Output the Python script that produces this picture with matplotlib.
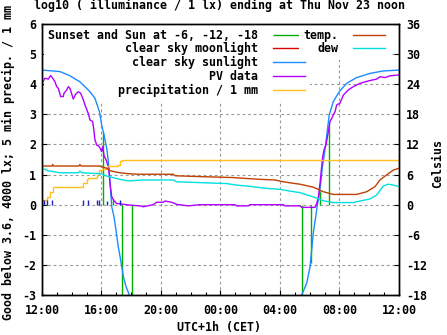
import matplotlib
matplotlib.use('Agg')
import matplotlib.pyplot as plt
from matplotlib.ticker import FuncFormatter, MultipleLocator

plt.rcParams['font.family'] = ['DejaVu Sans Mono']
plt.rcParams['font.weight'] = 'bold'
plt.rcParams['font.size'] = 8.4
plt.rcParams['axes.unicode_minus'] = False

# hours since midnight of Nov 22 (12 = noon, 36 = next noon)
# sunset, sun at -6, -12, -18 (evening) and -18, -12, -6, sunrise (morning)
sun_ev_t = [16.12, 16.75, 17.36, 18.03, 29.46, 30.06, 30.69, 31.31]
sun_ev_v = [2.42, 0.20, -3.5, -3.5, -3.5, -1.95, 0.45, 2.65]

# clear sky moonlight: nothing above -3 in this window
moon_t = []
moon_v = []

sunlight_t = [12.0, 13.21, 13.88, 14.55, 15.23, 15.56, 15.86, 16.01, 16.17, 16.35, 16.46,
              16.57, 16.69, 16.84, 16.97, 17.13, 17.29, 17.47, 17.65, 17.87, 18.0,
              float('nan'),
              29.34, 29.46, 29.80, 30.02, 30.13, 30.24, 30.40, 30.51, 30.62, 30.74,
              30.85, 30.96, 31.09, 31.31, 31.58, 31.98, 32.48, 33.15, 34.05, 34.94, 36.0]
sunlight_v = [4.47, 4.42, 4.28, 4.08, 3.75, 3.53, 3.09, 2.65, 2.31, 1.88, 1.43,
              0.76, -0.07, -0.40, -0.84, -1.40, -1.84, -2.39, -2.72, -3.0, -3.4,
              float('nan'),
              -3.4, -3.0, -2.6, -2.06, -1.5, -0.94, -0.40, -0.01, 0.26, 0.72,
              1.26, 1.60, 2.09, 2.98, 3.42, 3.75, 4.03, 4.22, 4.36, 4.44, 4.47]

pv_t = [12.05, 12.20, 12.42, 12.58, 12.72, 12.87, 12.99, 13.10, 13.26, 13.43,
        13.48, 13.66, 13.77, 13.88, 14.00, 14.10, 14.27, 14.44, 14.60, 14.78,
        14.89, 15.11, 15.23, 15.41, 15.50, 15.56, 15.68, 15.85, 16.01, 16.08,
        16.17, 16.30, 16.42, 16.50, 16.57, 16.69, 16.84, 17.02, 17.36, 17.80,
        18.59, 18.81, 19.48, 19.71, 20.15, 20.27, 20.72, 21.06, 21.84, 22.62,
        24.97, 25.09, 25.87, 25.98, 28.22, 28.34, 29.34, 29.46, 30.35, 30.47,
        30.58, 30.69, 30.80, 30.87, 30.96, 31.09, 31.25, 31.36, 31.48, 31.70,
        31.81, 32.03, 32.26, 32.59, 32.93, 33.38, 33.94, 34.50, 34.72, 35.06,
        35.40, 36.0]
pv_v = [4.08, 4.20, 4.17, 4.29, 4.20, 4.08, 3.92, 3.86, 3.59, 3.59,
        3.70, 3.81, 3.92, 3.86, 3.67, 3.51, 3.67, 3.75, 3.70, 3.48,
        3.31, 3.03, 2.81, 2.76, 2.42, 2.15, 1.98, 1.93, 1.76, 1.93,
        1.62, 1.50, 1.32, 1.15, 0.71, 0.26, 0.13, 0.04, 0.02, -0.01,
        -0.04, -0.07, 0.0, 0.08, 0.08, 0.12, 0.08, 0.01, -0.04, 0.0,
        0.0, -0.04, -0.04, 0.0, 0.0, -0.04, -0.04, -0.09, -0.09, 0.04,
        0.26, 0.71, 1.26, 1.59, 1.82, 1.98, 2.42, 2.76, 2.87, 3.09,
        3.31, 3.37, 3.64, 3.81, 3.92, 4.03, 4.11, 4.17, 4.25, 4.22,
        4.28, 4.31]

precip_t = [12.0, 12.09, 12.32, 12.54, 12.72, 14.67, 14.78, 15.0, 15.11, 15.56,
            15.68, 15.85, 16.01, 16.35, 17.13, 17.24, 17.36, 36.0]
precip_v = [0.07, 0.16, 0.26, 0.43, 0.58, 0.58, 0.71, 0.84, 0.88, 0.88,
            0.99, 1.15, 1.18, 1.30, 1.32, 1.46, 1.48, 1.48]

# 5 minute precipitation
rain5_t = [12.13, 12.36, 12.65, 14.78, 15.11, 15.72, 15.85, 16.40, 17.24]
rain5_v = [0.16, 0.16, 0.16, 0.16, 0.16, 0.16, 0.16, 0.13, 0.16]

temp_t = [12.0, 12.67, 12.72, 12.77, 14.49, 14.55, 14.62, 15.9, 16.01, 16.35,
          16.57, 16.91, 17.24, 17.58, 18.03, 18.59, 20.83, 20.94, 22.74, 24.86,
          26.32, 27.66, 28.22, 28.89, 29.34, 30.24, 30.91, 31.58, 33.15, 33.83,
          34.39, 34.72, 35.17, 35.62, 36.0]
temp_c = [7.70, 7.70, 8.0, 7.70, 7.70, 8.0, 7.70, 7.70, 7.56, 7.26,
          6.78, 6.54, 6.36, 6.24, 6.12, 6.06, 6.06, 5.76, 5.58, 5.40,
          5.10, 4.92, 4.56, 4.26, 4.08, 3.48, 2.58, 2.04, 2.04, 2.58,
          3.60, 4.92, 5.94, 6.90, 7.26]

dew_t = [12.0, 12.2, 12.36, 13.21, 14.44, 14.55, 14.67, 15.45, 16.01, 16.35,
         16.69, 17.24, 17.69, 17.92, 18.70, 20.83, 21.06, 22.74, 24.42, 25.09,
         25.76, 26.43, 27.11, 28.0, 28.67, 29.34, 30.24, 30.91, 31.58, 32.93,
         33.38, 34.05, 34.50, 34.94, 35.28, 35.62, 36.0]
dew_c = [7.08, 7.08, 6.78, 6.36, 6.36, 6.66, 6.36, 6.24, 6.12, 5.70,
         5.46, 5.04, 4.80, 4.74, 4.92, 4.92, 4.56, 4.38, 4.20, 3.90,
         3.72, 3.48, 3.24, 3.06, 2.70, 2.40, 1.56, 0.78, 0.42, 0.42,
         0.72, 1.14, 1.92, 3.72, 4.08, 3.90, 3.60]

c_sun = '#00b000'
c_moon = '#e00000'
c_light = '#1a8cff'
c_pv = '#b000ff'
c_prec = '#ffc020'
c_temp = '#c04000'
c_dew = '#00e0e0'
c_rain5 = '#2020c0'

fig = plt.figure(figsize=(4.47, 3.35), dpi=100)
ax = fig.add_axes([42/447, 40/335, 357/447, 271/335])
ax2 = ax.twinx()

lw = 1.0
h1 = ax.vlines(sun_ev_t, 0, sun_ev_v, color=c_sun, lw=lw, zorder=2,
               label='Sunset and Sun at -6, -12, -18')
h2, = ax.plot(moon_t, moon_v, color=c_moon, lw=lw, zorder=2, label='clear sky moonlight')
h3, = ax.plot(sunlight_t, sunlight_v, color=c_light, lw=lw, zorder=2, label='clear sky sunlight')
h4, = ax.plot(pv_t, pv_v, color=c_pv, lw=lw, zorder=2, label='PV data')
h5, = ax.plot(precip_t, precip_v, color=c_prec, lw=lw, zorder=2, drawstyle='steps-post',
              label='precipitation / 1 mm')
ax.vlines(rain5_t, 0, rain5_v, color=c_rain5, lw=lw, zorder=2)
h6, = ax2.plot(temp_t, temp_c, color=c_temp, lw=lw, label='temp.')
h7, = ax2.plot(dew_t, dew_c, color=c_dew, lw=lw, label='dew')

ax.set_xlim(12, 36)
ax.set_ylim(-3, 6)
ax2.set_ylim(-18, 36)

ax.xaxis.set_major_locator(MultipleLocator(4))
ax.xaxis.set_minor_locator(MultipleLocator(1))
ax.xaxis.set_major_formatter(FuncFormatter(lambda v, p: '%02d:00' % (int(round(v)) % 24)))
ax.yaxis.set_major_locator(MultipleLocator(1))
ax2.yaxis.set_major_locator(MultipleLocator(6))

ax.tick_params(axis='x', which='both', direction='in', top=True, pad=6.5)
ax.tick_params(axis='x', which='major', length=3.5, width=0.8)
ax.tick_params(axis='x', which='minor', length=2.5, width=0.8)
ax.tick_params(axis='y', direction='in', right=False, length=3.5, width=0.8, pad=4.3)
ax2.tick_params(axis='y', direction='in', length=3.5, width=0.8, pad=5)

for a in (ax, ax2):
    for s in a.spines.values():
        s.set_linewidth(1.0)

ax.set_axisbelow(True)
ax.grid(True, color='#999999', linestyle=(0, (2.5, 2.5)), linewidth=0.8)

leg_kw = dict(loc='upper right', borderaxespad=0, markerfirst=False, frameon=True,
              fancybox=False, facecolor='white', edgecolor='none', framealpha=1,
              borderpad=0.4, labelspacing=0.06, handlelength=2.74, handletextpad=1.29)
leg1 = ax.legend(handles=[h1, h2, h3, h4, h5],
                 bbox_to_anchor=((310 - 42) / 357, 1.0), **leg_kw)
leg1.set_zorder(1.5)
ax.add_artist(leg1)
leg2 = ax.legend(handles=[h6, h7], bbox_to_anchor=((390 - 42) / 357, 1.0), **leg_kw)
leg2.set_zorder(1.5)

fig.text(219.5/447, 1 - 5.5/335, 'log10 ( illuminance / 1 lx) ending at Thu Nov 23 noon',
         ha='center', va='center')
fig.text(8.5/447, 1 - 163/335, 'Good below 3.6, 4000 lx; 5 min precip. / 1 mm',
         ha='center', va='center', rotation=90)
fig.text(438/447, 1 - 163/335, 'Celsius', ha='center', va='center', rotation=90)
fig.text(219/447, 1 - 327/335, 'UTC+1h (CET)', ha='center', va='center')

fig.savefig('out.png', dpi=100)
